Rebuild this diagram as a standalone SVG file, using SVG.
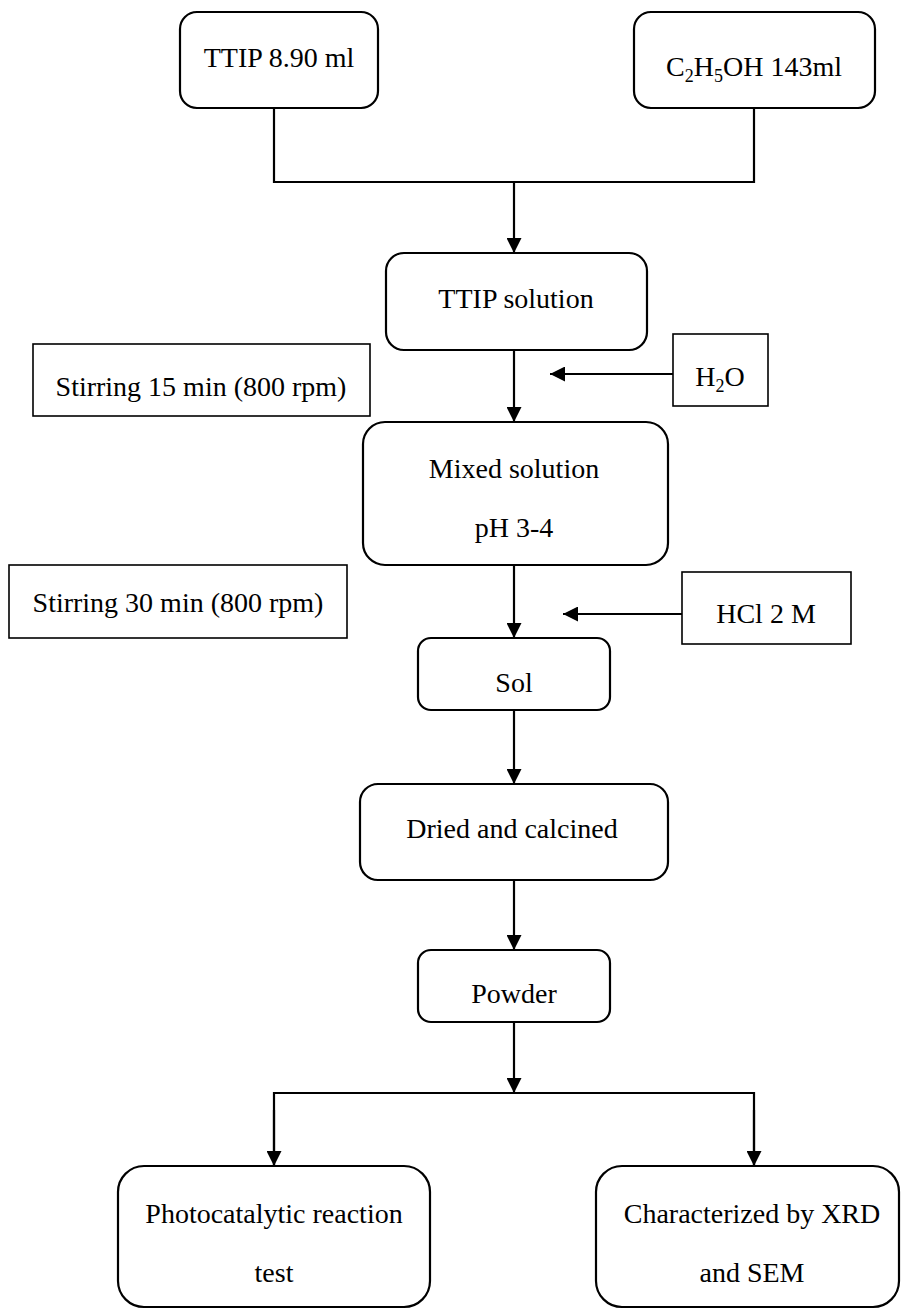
<svg xmlns="http://www.w3.org/2000/svg" width="901" height="1309" viewBox="0 0 901 1309">
  <style>
    .rbox { fill: #fff; stroke: #000; stroke-width: 2.2; }
    .sbox { fill: #fff; stroke: #000; stroke-width: 1.6; }
    .lbl { font-size: 28px; fill: #000; text-anchor: middle; }
    .sub { font-size: 18px; }
    .wire { fill: none; stroke: #000; stroke-width: 2.2; }
    .thin { fill: none; stroke: #000; stroke-width: 1.8; }
  </style>
  <defs>
    <marker id="arrow" viewBox="0 0 15 15" refX="15" refY="7.5" markerWidth="15" markerHeight="15" markerUnits="userSpaceOnUse" orient="auto">
      <path d="M0,0 L15,7.5 L0,15 Z" fill="#000"/>
    </marker>
  </defs>

  <!-- connectors -->
  <g id="connectors">
    <path class="wire" d="M274,108 V182 H754 V108"/>
    <path class="wire" d="M514,182 V253" marker-end="url(#arrow)"/>
    <path class="wire" d="M514,350 V422" marker-end="url(#arrow)"/>
    <path class="thin" d="M673,374 H550" marker-end="url(#arrow)"/>
    <path class="wire" d="M514,565 V638" marker-end="url(#arrow)"/>
    <path class="thin" d="M682,614 H563" marker-end="url(#arrow)"/>
    <path class="wire" d="M514,710 V784" marker-end="url(#arrow)"/>
    <path class="wire" d="M514,880 V950" marker-end="url(#arrow)"/>
    <path class="wire" d="M514,1022 V1093" marker-end="url(#arrow)"/>
    <path class="wire" d="M274,1166 V1093 H754 V1166" />
    <path class="wire" d="M274,1110 V1166" marker-end="url(#arrow)"/>
    <path class="wire" d="M754,1110 V1166" marker-end="url(#arrow)"/>
  </g>

  <g font-family="Liberation Serif, Tinos, Times New Roman, serif">
  <g id="ttip">
    <rect class="rbox" x="180" y="12" width="198" height="96" rx="17"/>
    <text class="lbl" x="279" y="67">TTIP 8.90 ml</text>
  </g>

  <g id="ethanol">
    <rect class="rbox" x="634" y="12" width="241" height="96" rx="17"/>
    <text class="lbl" x="754" y="76">C<tspan class="sub" dy="6">2</tspan><tspan dy="-6">H</tspan><tspan class="sub" dy="6">5</tspan><tspan dy="-6">OH 143ml</tspan></text>
  </g>

  <g id="ttip-solution">
    <rect class="rbox" x="386" y="253" width="261" height="97" rx="18"/>
    <text class="lbl" x="516" y="308">TTIP solution</text>
  </g>

  <g id="stir-15">
    <rect class="sbox" x="33" y="344" width="337" height="72"/>
    <text class="lbl" x="201" y="396">Stirring 15 min (800 rpm)</text>
  </g>

  <g id="water">
    <rect class="sbox" x="673" y="334" width="95" height="72"/>
    <text class="lbl" x="720" y="386">H<tspan class="sub" dy="6">2</tspan><tspan dy="-6">O</tspan></text>
  </g>

  <g id="mixed-solution">
    <rect class="rbox" x="363" y="422" width="305" height="143" rx="22"/>
    <text class="lbl" x="514" y="478">Mixed solution</text>
    <text class="lbl" x="514" y="537">pH 3-4</text>
  </g>

  <g id="stir-30">
    <rect class="sbox" x="9" y="565" width="338" height="73"/>
    <text class="lbl" x="178" y="612">Stirring 30 min (800 rpm)</text>
  </g>

  <g id="hcl">
    <rect class="sbox" x="682" y="572" width="169" height="72"/>
    <text class="lbl" x="766" y="623">HCl 2 M</text>
  </g>

  <g id="sol">
    <rect class="rbox" x="418" y="638" width="192" height="72" rx="13"/>
    <text class="lbl" x="514" y="692">Sol</text>
  </g>

  <g id="dried">
    <rect class="rbox" x="360" y="784" width="308" height="96" rx="18"/>
    <text class="lbl" x="512" y="838">Dried and calcined</text>
  </g>

  <g id="powder">
    <rect class="rbox" x="418" y="950" width="192" height="72" rx="13"/>
    <text class="lbl" x="514" y="1003">Powder</text>
  </g>

  <g id="photocatalytic">
    <rect class="rbox" x="118" y="1166" width="312" height="141" rx="26"/>
    <text class="lbl" x="274" y="1223">Photocatalytic reaction</text>
    <text class="lbl" x="274" y="1282">test</text>
  </g>

  <g id="characterized">
    <rect class="rbox" x="596" y="1166" width="303" height="141" rx="26"/>
    <text class="lbl" x="752" y="1223">Characterized by XRD</text>
    <text class="lbl" x="752" y="1282">and SEM</text>
  </g>
  </g>
</svg>
